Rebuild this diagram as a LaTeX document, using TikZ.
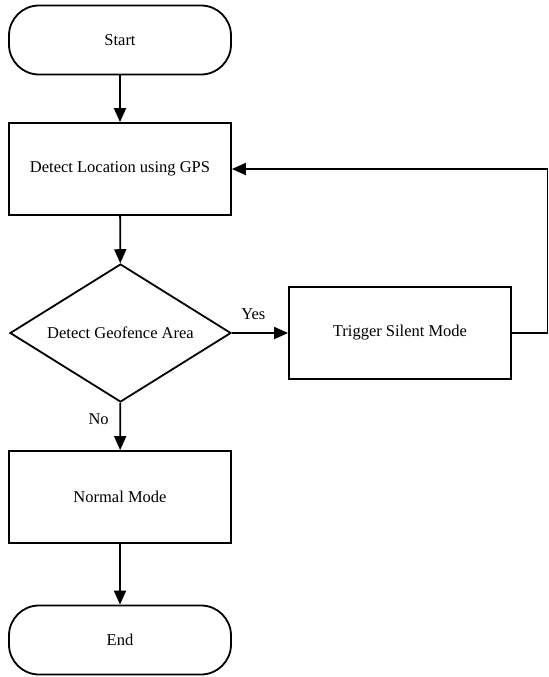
\documentclass[tikz,border=0pt]{standalone}
\usepackage{fontspec}
\setmainfont{Liberation Serif}
\usetikzlibrary{arrows.meta, shapes.geometric}

\tikzset{
    terminal/.style={draw, line width=0.9pt, rounded corners=15pt, minimum width=111pt, minimum height=34.5pt, inner sep=0pt},
    process/.style={draw, line width=0.9pt, minimum width=111pt, minimum height=46pt, inner sep=0pt},
    decision/.style={draw, line width=0.9pt, diamond, aspect=1.6, minimum width=110.5pt, minimum height=69pt, inner sep=0pt},
    flow/.style={line width=0.9pt, -{Triangle[length=7pt,width=6pt]}}
}

\begin{document}
\begin{tikzpicture}[x=0.5pt, y=-0.5pt, font=\fontsize{8.25}{10}\selectfont]
        \useasboundingbox (0, 0) rectangle (549, 677);

        % Main column
        \node[terminal] (start)  at (120, 40)   {Start};
        \node[process]  (gps)    at (120, 169)  {Detect Location using GPS};
        \node[decision] (geo)    at (120.5, 333) {Detect Geofence Area};
        \node[process]  (silent) at (400, 333)  {Trigger Silent Mode};
        \node[process]  (normal) at (120, 497)  {Normal Mode};
        \node[terminal] (end)    at (120, 640)  {End};

        % Corners of the loop back
        \coordinate (loopa) at (547.5, 333);
        \coordinate (loopb) at (547.5, 169);

        % Draw the arrows
        \draw[flow] (start) -- (gps);
        \draw[flow] (gps) -- (geo);
        \draw[flow] (geo) -- node[above, pos=0.38, yshift=3pt] {Yes} (silent);
        \draw[flow] (geo) -- node[left, pos=0.35, xshift=-2pt] {No} (normal);
        \draw[flow] (normal) -- (end);
        \draw[flow] (silent.east) -- (loopa) -- (loopb) -- (gps.east);
    \end{tikzpicture}
\end{document}
